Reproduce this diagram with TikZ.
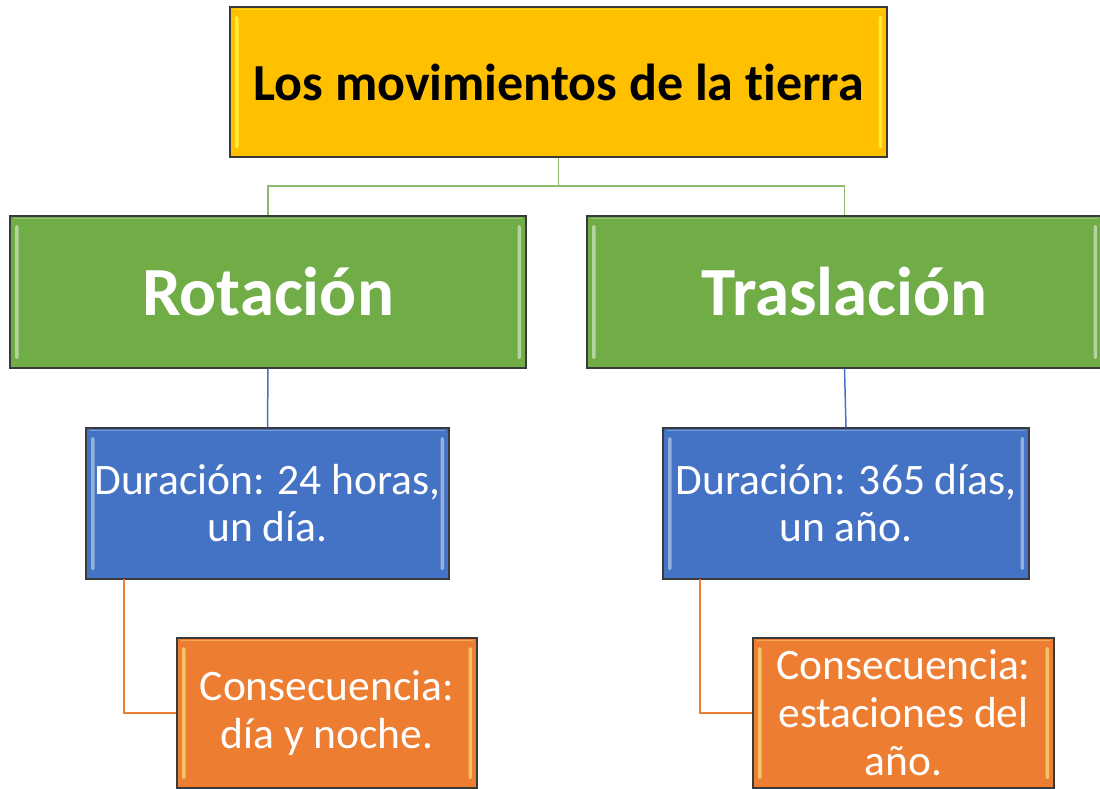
\documentclass[tikz,border=0pt]{standalone}
\usepackage{fontspec}
\setmainfont{Carlito}[Ligatures=NoCommon]
\definecolor{cgold}{HTML}{FFC000}
\definecolor{cgreen}{HTML}{70AD47}
\definecolor{cblue}{HTML}{4472C4}
\definecolor{corange}{HTML}{ED7D31}
\definecolor{cedge}{HTML}{3A3A3A}
\colorlet{bevelcol}{white}
\begin{document}
\begin{tikzpicture}[x=1pt,y=-1pt,
  bevel/.code={\colorlet{bevelcol}{#1}},
  box/.style={draw=cedge, line width=1.3pt, rectangle, align=center, inner sep=0pt,
    path picture={
      \fill[bevelcol, opacity=0.8, rounded corners=1.5pt] ([xshift=5pt,yshift=-9pt]path picture bounding box.north west) rectangle ([xshift=8.5pt,yshift=9pt]path picture bounding box.south west);
      \fill[bevelcol, opacity=0.8, rounded corners=1.5pt] ([xshift=-5pt,yshift=-9pt]path picture bounding box.north east) rectangle ([xshift=-8.5pt,yshift=9pt]path picture bounding box.south east);
      \draw[bevelcol, opacity=0.5, line width=1.2pt] ([xshift=4pt,yshift=-2.5pt]path picture bounding box.north west) -- ([xshift=-4pt,yshift=-2.5pt]path picture bounding box.north east);
    }},
  titlebox/.style={box, fill=cgold, bevel=yellow!70!white, minimum width=657pt, minimum height=150pt,
     font=\fontsize{52}{60}\selectfont\bfseries, text=black},
  mainbox/.style={box, fill=cgreen, bevel=cgreen!40!white, minimum width=516pt, minimum height=152pt,
     font=\fontsize{69}{80}\selectfont\bfseries, text=white},
  durbox/.style={box, fill=cblue, bevel=cblue!45!white, minimum height=151pt,
     font=\fontsize{43.5}{47}\selectfont, text=white},
  conbox/.style={box, fill=corange, bevel=yellow!50!corange!60!white, minimum width=300pt, minimum height=150pt,
     font=\fontsize{43.5}{48}\selectfont, text=white},
  glink/.style={draw=cgreen!80!white, line width=1.5pt},
  blink/.style={draw=cblue, line width=1.5pt},
  olink/.style={draw=corange, line width=1.5pt}
]
\useasboundingbox (0,0) rectangle (1100,788);

\coordinate (split) at (558.5,186);
\coordinate (ol) at (124,579);
\coordinate (or) at (700,579);

\node[titlebox] (title) at (558.5,82) {Los movimientos de la tierra};
\node[mainbox] (rot) at (268,292) {Rotación};
\node[mainbox, minimum width=515pt] (tras) at (844.5,292) {Traslación};
\node[durbox, minimum width=363pt] (durl) at (267.5,503.5) {Duración: 24 horas,\\un día.};
\node[durbox, minimum width=366pt] (durr) at (846,503.5) {Duración: 365 días,\\un año.};
\node[conbox] (conl) at (327,713) {Consecuencia:\\día y noche.};
\node[conbox, minimum width=301pt] (conr) at (903.5,713) {Consecuencia:\\estaciones del\\año.};

\draw[glink] (title.south) -- (split);
\draw[glink] (split) -| (rot.north);
\draw[glink] (split) -| (tras.north);
\draw[blink] (rot.south) -- (durl.north);
\draw[blink] (tras.south) -- (durr.north);
\draw[olink] (ol) |- (conl.west);
\draw[olink] (or) |- (conr.west);
\end{tikzpicture}
\end{document}
